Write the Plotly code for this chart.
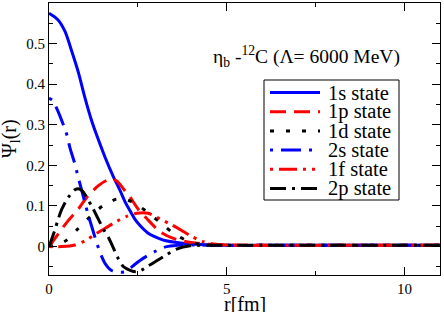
import plotly.graph_objects as go

# ---------------- data ----------------
states = ["1s state", "1p state", "1d state", "2s state", "1f state", "2p state"]

r_1s = [0, 0.25, 0.45, 0.64, 0.83, 1.01, 1.2, 1.39, 1.6, 1.8, 1.86, 2.0, 2.14, 2.28, 2.42, 2.56,
        2.79, 2.94, 3.26, 3.7, 4.25, 5, 6, 8, 11]
psi_1s = [0.575, 0.559, 0.530, 0.481, 0.428, 0.367, 0.310, 0.263, 0.215, 0.174, 0.163, 0.138,
          0.110, 0.088, 0.067, 0.052, 0.033, 0.026, 0.015, 0.009, 0.005, 0.003, 0.003, 0.003, 0.003]

r_1p = [0, 0.15, 0.3, 0.54, 0.83, 1.06, 1.39, 1.62, 1.75, 1.9, 2.0, 2.14, 2.28, 2.51, 2.75,
        3.12, 3.5, 4.0, 4.5, 5, 6, 8, 11]
psi_1p = [0, 0.018, 0.036, 0.064, 0.093, 0.121, 0.150, 0.163, 0.166, 0.162, 0.153, 0.137,
          0.122, 0.092, 0.069, 0.037, 0.020, 0.010, 0.006, 0.004, 0.003, 0.003, 0.003]

r_1d = [0, 0.25, 0.5, 0.83, 1.2, 1.51, 1.9, 2.1, 2.37, 2.75, 3.12, 3.47, 3.87, 4.31, 5, 6, 8, 11]
psi_1d = [0, 0.004, 0.016, 0.045, 0.077, 0.100, 0.117, 0.117, 0.109, 0.086, 0.060, 0.035,
          0.015, 0.004, 0.003, 0.003, 0.003, 0.003]

r_2s = [0, 0.1, 0.22, 0.43, 0.52, 0.59, 0.73, 0.80, 0.90, 1.01, 1.11, 1.20, 1.34, 1.46, 1.58,
        1.76, 2.0, 2.14, 2.33, 2.56, 3.03, 3.31, 3.6, 4.0, 5, 6, 8, 11]
psi_2s = [0.365, 0.360, 0.340, 0.294, 0.270, 0.243, 0.203, 0.178, 0.145, 0.108, 0.076, 0.050,
          0.010, -0.020, -0.042, -0.059, -0.063, -0.062, -0.050, -0.034, -0.010, 0.000, 0.003,
          0.004, 0.003, 0.003, 0.003, 0.003]

r_1f = [0, 0.36, 0.73, 1.03, 1.29, 1.58, 1.9, 2.17, 2.47, 2.79, 3.17, 3.42, 3.71, 3.97, 4.3,
        4.7, 5.5, 6, 8, 11]
psi_1f = [0, 0.0, 0.004, 0.015, 0.030, 0.045, 0.062, 0.074, 0.082, 0.082, 0.066, 0.055, 0.041,
          0.027, 0.013, 0.006, 0.003, 0.003, 0.003, 0.003]

r_2p = [0, 0.17, 0.26, 0.36, 0.54, 0.73, 0.85, 0.95, 1.06, 1.2, 1.34, 1.53, 1.67, 1.81, 1.92,
        2.09, 2.3, 2.45, 2.6, 2.75, 3.03, 3.31, 3.59, 3.97, 4.5, 5, 6, 8, 11]
psi_2p = [0, 0.042, 0.068, 0.092, 0.121, 0.140, 0.142, 0.136, 0.121, 0.100, 0.076, 0.043, 0.023,
          -0.003, -0.025, -0.049, -0.059, -0.062, -0.058, -0.050, -0.035, -0.020, -0.006, 0.002,
          0.003, 0.003, 0.003, 0.003, 0.003]

x_ticks = [0, 5, 10]
y_ticks = [0, 0.1, 0.2, 0.3, 0.4, 0.5]
y_tick_labels = ["0", "0.1", "0.2", "0.3", "0.4", "0.5"]

title_text = "η<sub>b</sub> -<sup>12</sup>C (Λ= 6000 MeV)"
x_title = "r[fm]"
y_title = "Ψ<sub>l</sub>(r)"

# ---------------- styles ----------------
FONT = "Liberation Serif, Times New Roman, Times, DejaVu Serif, serif"
W, H = 444, 312
ML, MR, MT, MB = 49, 4, 3, 37
PW, PH = W - ML - MR, H - MT - MB

styles = {
    "1s state": ("#0000ff", "solid"),
    "1p state": ("#ff0000", "16px,8px"),
    "1d state": ("#000000", "4px,12px"),
    "2s state": ("#0000ff", "3px,8px,20px,8px"),
    "1f state": ("#ff0000", "3px,6px,18px,6px,3px,6px"),
    "2p state": ("#000000", "16px,6px,3px,6px"),
}
data = {
    "1s state": (r_1s, psi_1s),
    "1p state": (r_1p, psi_1p),
    "1d state": (r_1d, psi_1d),
    "2s state": (r_2s, psi_2s),
    "1f state": (r_1f, psi_1f),
    "2p state": (r_2p, psi_2p),
}

fig = go.Figure()
for name in states:
    rr, vv = data[name]
    color, dash = styles[name]
    fig.add_trace(go.Scatter(
        x=rr, y=vv, mode="lines", name=name, showlegend=False, hoverinfo="skip",
        line=dict(color=color, width=3, dash=dash, shape="spline", smoothing=0.8),
    ))


def px(xp):
    return (xp - ML) / PW


def py(yp):
    return (MT + PH - yp) / PH


shapes = []
annotations = []
# legend box
shapes.append(dict(type="rect", xref="paper", yref="paper",
                   x0=px(264), x1=px(399), y0=py(200), y1=py(80),
                   line=dict(color="black", width=1), fillcolor="white", layer="above"))
for i, name in enumerate(states):
    color, dash = styles[name]
    yc = 92.5 + i * 19.2
    shapes.append(dict(type="line", xref="paper", yref="paper",
                       x0=px(270), x1=px(320), y0=py(yc), y1=py(yc),
                       line=dict(color=color, width=3, dash=dash), layer="above"))
    annotations.append(dict(text=name, xref="paper", yref="paper", x=px(326), y=py(yc),
                            xanchor="left", yanchor="middle", showarrow=False,
                            font=dict(family=FONT, size=20.5, color="black")))

annotations.append(dict(text=title_text, xref="paper", yref="paper", x=px(211), y=py(57),
                        xanchor="left", yanchor="middle", showarrow=False,
                        font=dict(family=FONT, size=19.5, color="black")))
annotations.append(dict(text=x_title, xref="paper", yref="paper", x=0.5, y=0, yshift=-29,
                        xanchor="center", yanchor="middle", showarrow=False,
                        font=dict(family=FONT, size=20, color="black")))
annotations.append(dict(text=y_title, xref="paper", yref="paper", x=0, xshift=-39, y=0.5,
                        xanchor="center", yanchor="middle", showarrow=False, textangle=-90,
                        font=dict(family=FONT, size=20, color="black")))

axis_common = dict(showgrid=False, zeroline=False, showline=True, linecolor="black",
                   linewidth=1, mirror="ticks", ticks="inside", ticklen=8, tickwidth=1,
                   tickcolor="black", tickfont=dict(family=FONT, size=15, color="black"))

fig.update_layout(
    width=W, height=H,
    margin=dict(l=ML, r=MR, t=MT, b=MB),
    paper_bgcolor="white", plot_bgcolor="white",
    font=dict(family=FONT, color="black"),
    showlegend=False, hovermode=False,
    shapes=shapes, annotations=annotations,
    xaxis=dict(range=[0, 11], tickvals=x_ticks, ticktext=[str(v) for v in x_ticks],
               minor=dict(dtick=2.5, tick0=0, ticks="inside", ticklen=4, tickcolor="black"),
               **axis_common),
    yaxis=dict(range=[-0.07, 0.6], tickvals=y_ticks, ticktext=y_tick_labels,
               minor=dict(dtick=0.05, tick0=0, ticks="inside", ticklen=4, tickcolor="black"),
               **axis_common),
)

fig.write_html("out.html", config={"displayModeBar": False},
               post_script="document.body.style.margin='0';document.body.style.padding='0';")
